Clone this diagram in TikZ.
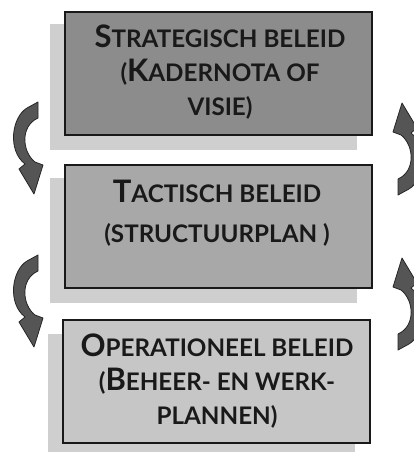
\documentclass[tikz,border=0pt]{standalone}
\usepackage{fontspec}
\setmainfont{Lato}
\newcommand\bigcapl[1]{{\fontsize{31}{34}\selectfont #1}}
\definecolor{fillone}{HTML}{8C8C8C}
\definecolor{filltwo}{HTML}{A8A8A8}
\definecolor{fillthree}{HTML}{C6C6C6}
\definecolor{shadowgray}{HTML}{CFCFCF}
\definecolor{arrowgray}{HTML}{555555}
\newcommand\curvedarrowpath{(38,102) -- (27,108) .. controls (12,117) and (7,150) .. (25,164) -- (19,169) -- (34,194) -- (43,165) -- (35,162) .. controls (22,152) and (20,126) .. (38,118) -- cycle}
\tikzset{
  levelbox/.style={draw=black!90, line width=2pt, minimum width=307pt, minimum height=123pt, inner sep=0pt},
  shadowbox/.style={fill=shadowgray, draw=none, minimum width=307pt, minimum height=125pt, inner sep=0pt},
  leveltext/.style={align=center, font=\fontsize{24.2}{34}\selectfont\bfseries, text=black!90, inner sep=0pt},
  bendarrow/.style={fill=arrowgray, draw=black!85, line width=0.8pt, line join=round}
}
\begin{document}
\begin{tikzpicture}[x=1pt,y=-1pt]
\useasboundingbox (0,0) rectangle (414,452);
\fill[white] (0,0) rectangle (414,452);
\clip (0,0) rectangle (414,452);
% shadows
\node[shadowbox] (s1) at (203.5,87) {};
\node[shadowbox] (s2) at (203,240.5) {};
\node[shadowbox] (s3) at (201.5,396) {};
% boxes
\node[levelbox, fill=fillone] (b1) at (218.5,73.5) {};
\node[levelbox, fill=filltwo] (b2) at (218,226) {};
\node[levelbox, fill=fillthree] (b3) at (216.5,381) {};
% texts
\node[leveltext] (t1) at (220,72) {\bigcapl{S}TRATEGISCH BELEID\\(\bigcapl{K}ADERNOTA OF\\VISIE)};
\node[leveltext, font=\fontsize{24.2}{40}\selectfont\bfseries] (t2) at (217,213) {\bigcapl{T}ACTISCH BELEID\\(STRUCTUURPLAN )};
\node[leveltext] (t3) at (217,381) {\bigcapl{O}PERATIONEEL BELEID\\(\bigcapl{B}EHEER- EN WERK-\\PLANNEN)};
% curved arrows
\fill[bendarrow] \curvedarrowpath;
\begin{scope}[shift={(0,153)}]
\fill[bendarrow] \curvedarrowpath;
\end{scope}
\begin{scope}[shift={(436,297)}, xscale=-1, yscale=-1]
\fill[bendarrow] \curvedarrowpath;
\end{scope}
\begin{scope}[shift={(436,452)}, xscale=-1, yscale=-1]
\fill[bendarrow] \curvedarrowpath;
\end{scope}
\end{tikzpicture}
\end{document}
